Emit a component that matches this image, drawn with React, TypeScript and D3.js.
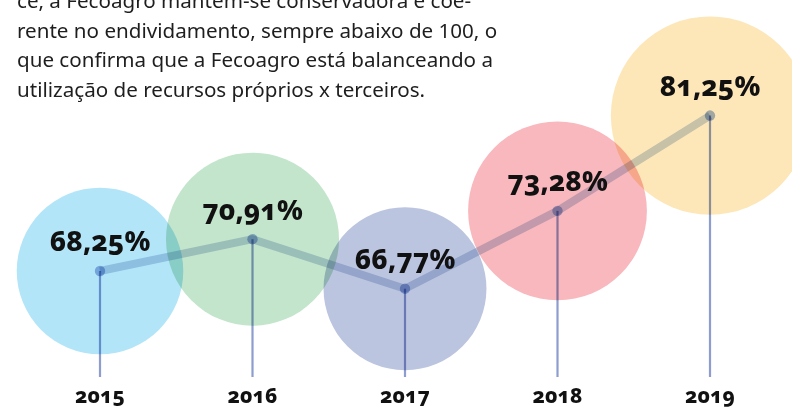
import React from "react";
import * as d3 from "d3";

const years = ["2015", "2016", "2017", "2018", "2019"];
const values = [68.25, 70.91, 66.77, 73.28, 81.25];
const circleColors = ["#b3e5f9", "#c3e5cc", "#bcc5df", "#f8b8bd", "#fde7b9"];
const paragraphLines = [
  "ce, a Fecoagro mantém-se conservadora e coe-",
  "rente no endividamento, sempre abaixo de 100, o",
  "que confirma que a Fecoagro está balanceando a",
  "utilização de recursos próprios x terceiros.",
];

const W = 792;
const H = 408;

export default function App() {
  const x = d3.scalePoint<string>().domain(years).range([100, 710]);
  const y = d3.scaleLinear().domain([66, 82]).range([297.9, 106.6]);
  const r = d3.scaleLinear().domain([0, 100]).range([0, 122]);
  const fmt = (v: number) => v.toFixed(2).replace(".", ",") + "%";
  const pts: [number, number][] = values.map((v, i) => [x(years[i]) as number, y(v)]);
  const line = d3.line()(pts) || "";
  const stemBottom = 377;
  const font = "'Noto Sans', 'Open Sans', sans-serif";

  return (
    <svg
      width={W}
      height={H}
      style={{ position: "absolute", left: 0, top: 0, background: "#fff" }}
    >
      <g fontFamily={font} fill="#1e1e1e" fontSize={20.6}>
        {paragraphLines.map((t, i) => (
          <text key={i} x={17} y={8 + i * 29.5}>
            {t}
          </text>
        ))}
      </g>
      <g style={{ isolation: "isolate" }}>
        {values.map((v, i) => (
          <circle
            key={years[i]}
            cx={pts[i][0]}
            cy={pts[i][1]}
            r={r(v)}
            fill={circleColors[i]}
            style={{ mixBlendMode: "multiply" }}
          />
        ))}
        <path
          d={line}
          fill="none"
          stroke="#c9d5e7"
          strokeWidth={8}
          strokeLinejoin="round"
          style={{ mixBlendMode: "multiply" }}
        />
        {values.map((v, i) => (
          <line
            key={"s" + i}
            x1={pts[i][0]}
            x2={pts[i][0]}
            y1={pts[i][1]}
            y2={stemBottom}
            stroke="#8d9dd0"
            strokeWidth={2.2}
            style={{ mixBlendMode: "multiply" }}
          />
        ))}
        {values.map((v, i) => (
          <circle
            key={"d" + i}
            cx={pts[i][0]}
            cy={pts[i][1]}
            r={5.2}
            fill="#a3b8e0"
            style={{ mixBlendMode: "multiply" }}
          />
        ))}
      </g>
      <g
        fontFamily={font}
        fontWeight={800}
        fill="#111"
        textAnchor="middle"
        style={{ fontVariantNumeric: "oldstyle-nums", fontFeatureSettings: "'onum' 1" }}
      >
        {values.map((v, i) => (
          <text key={"l" + i} x={pts[i][0]} y={pts[i][1] - 19.5} fontSize={28}>
            {fmt(v)}
          </text>
        ))}
        {years.map((yr) => (
          <text key={"y" + yr} x={x(yr)} y={403} fontSize={21}>
            {yr}
          </text>
        ))}
      </g>
    </svg>
  );
}
